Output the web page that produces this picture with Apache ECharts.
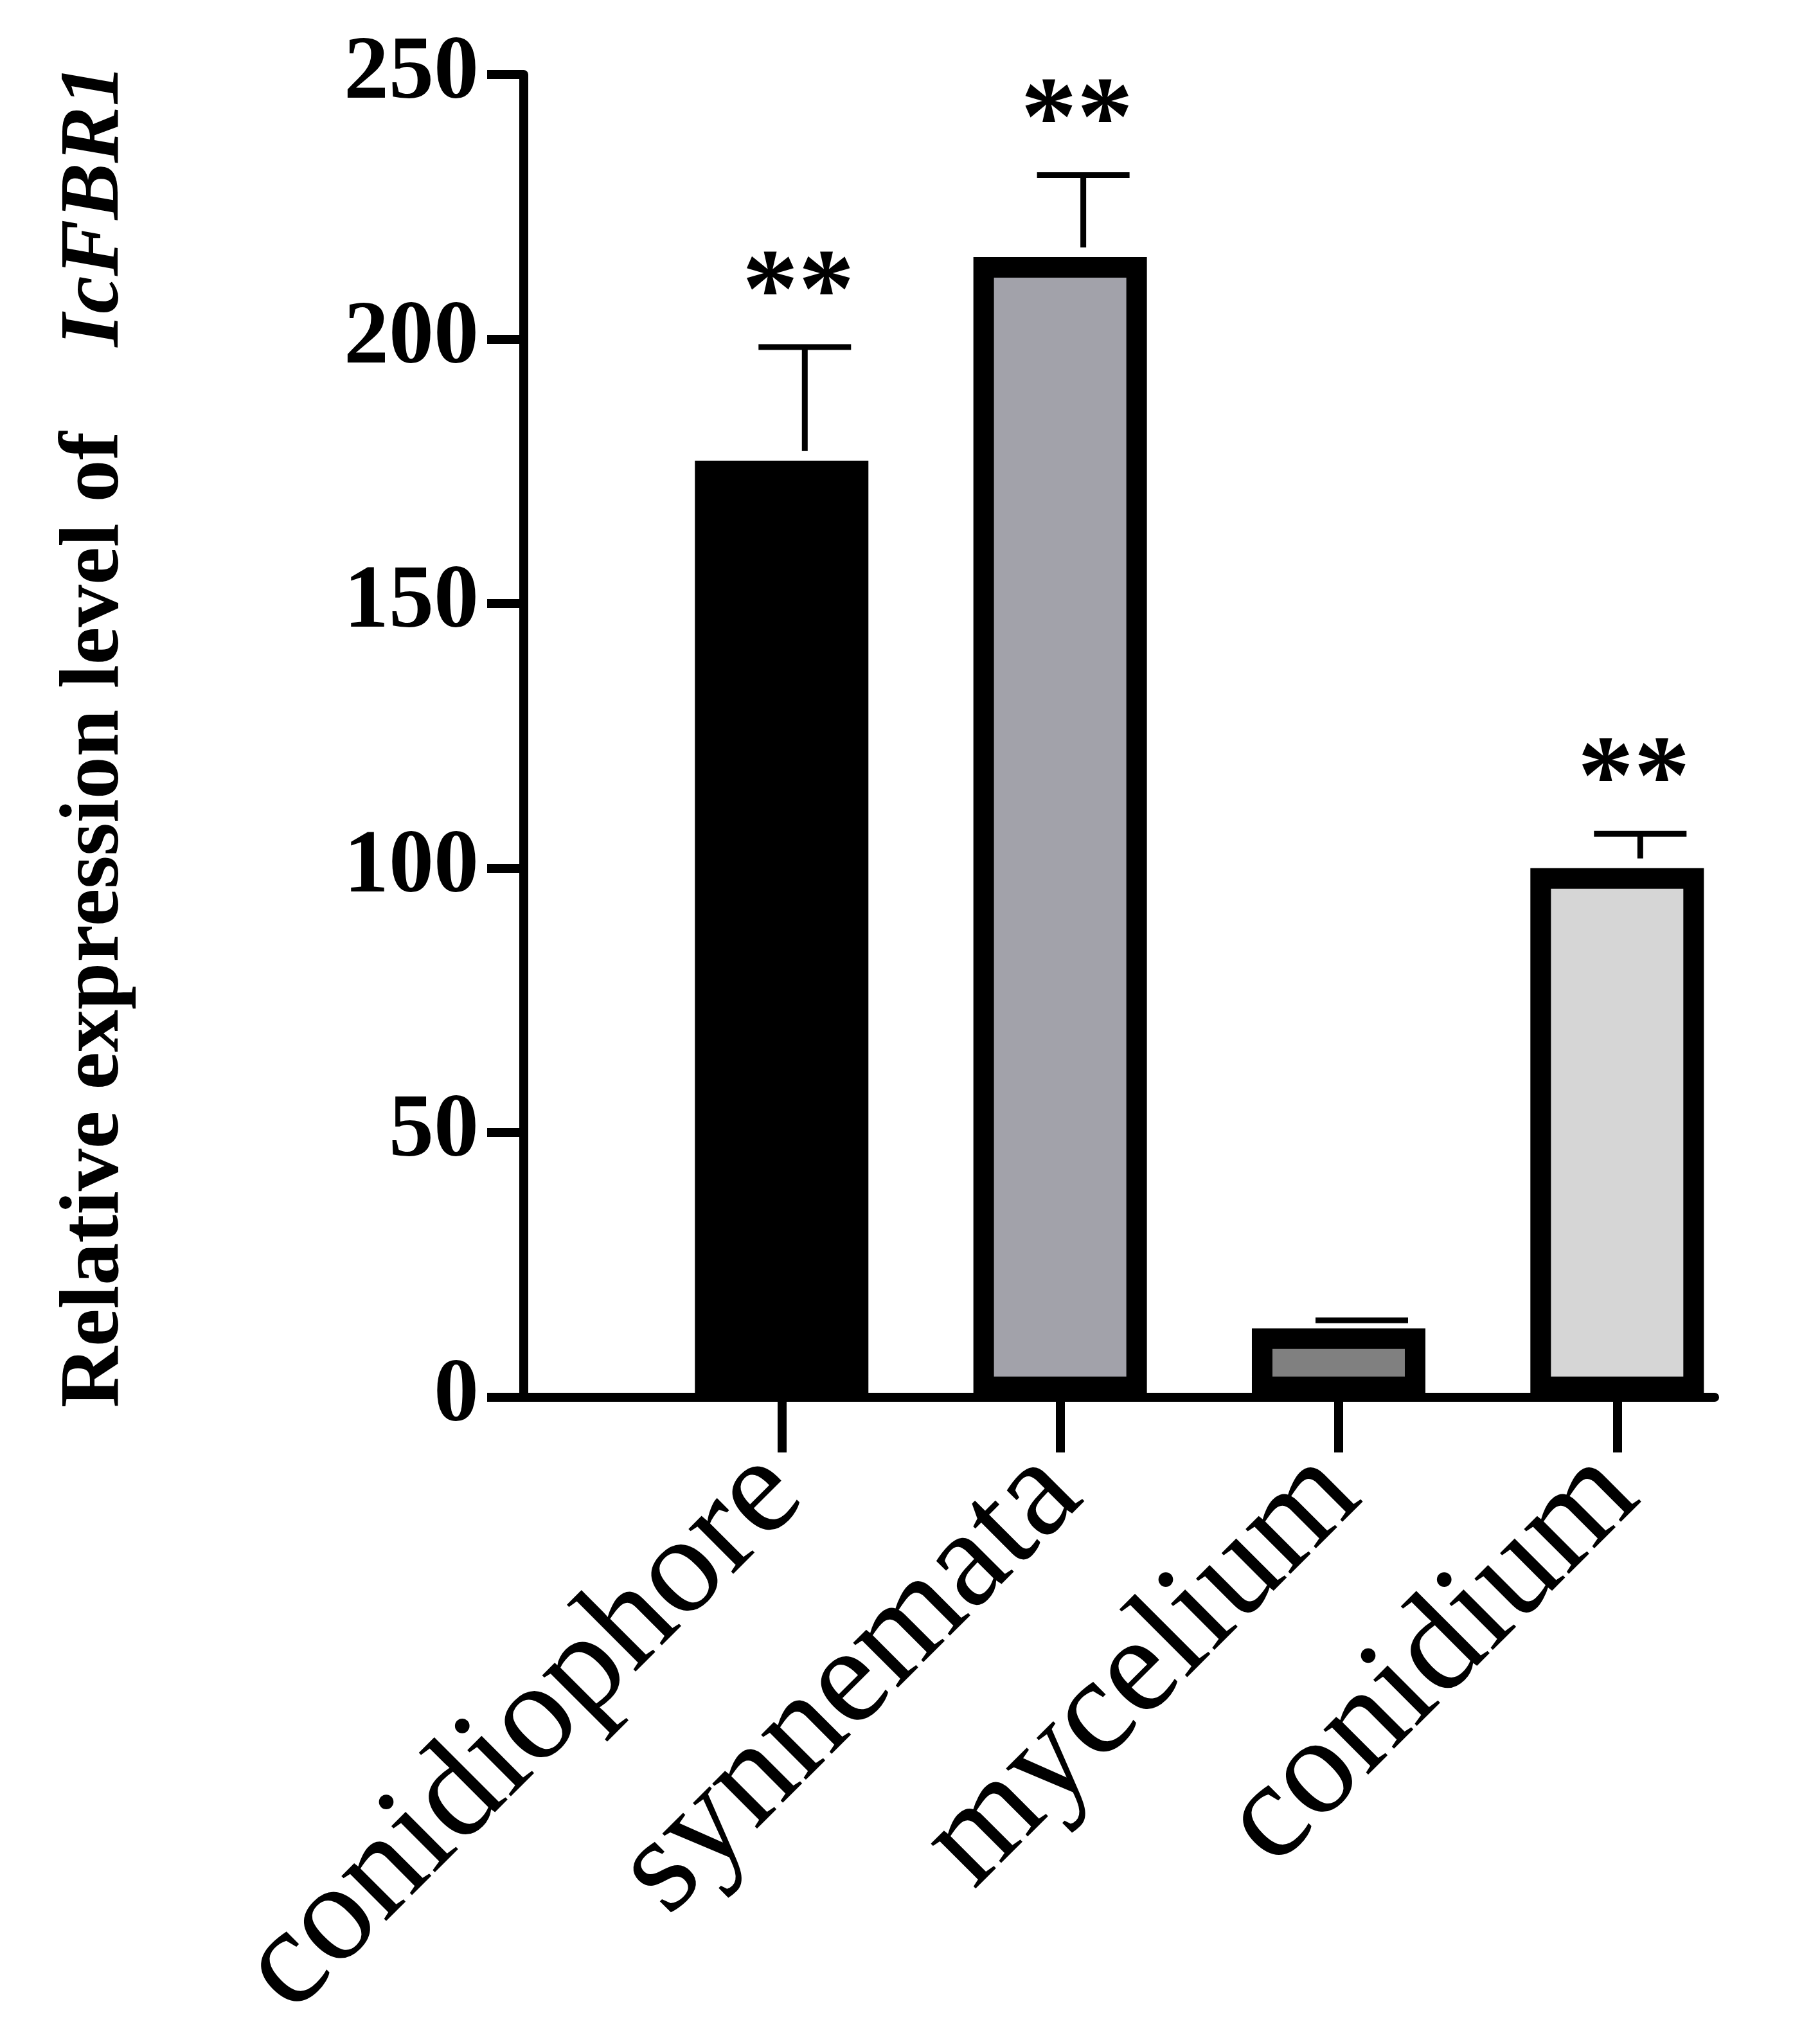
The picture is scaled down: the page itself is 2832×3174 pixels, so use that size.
<!DOCTYPE html>
<html><head><meta charset="utf-8">
<script src="https://cdn.jsdelivr.net/npm/echarts@6/dist/echarts.min.js"></script>
<style>html,body{margin:0;background:#fff}#c{width:2832px;height:3174px}</style>
</head><body><div id="c"></div>
<script>
var categories = ['conidiophore', 'synnemata', 'mycelium', 'conidium'];
var means = [177, 215.5, 13, 100];
var errors = [21.5, 15.5, 1.5, 6.5];
var marks = ['**', '**', '', '**'];
var fills = ['#000000', '#a2a2aa', '#808080', '#d6d6d6'];
var yTicks = [0, 50, 100, 150, 200, 250];

var chart = echarts.init(document.getElementById('c'));
var serif = '"Liberation Serif", "DejaVu Serif", serif';
var barData = means.map(function (v, i) {
  return { value: [i + 1, v], itemStyle: { color: fills[i], borderColor: '#000', borderWidth: 32 } };
});
var errData = means.map(function (v, i) { return [i + 1, v, v + errors[i]]; });

chart.setOption({
  animation: false,
  grid: { left: 815, right: 164, top: 116, bottom: 948, containLabel: false },
  xAxis: {
    type: 'value', min: 0.074, max: 4.35,
    splitLine: { show: false },
    axisLine: { show: true, onZero: false, lineStyle: { color: '#000', width: 14 } },
    axisTick: { show: true, customValues: [1, 2, 3, 4], length: 86, lineStyle: { color: '#000', width: 14 } },
    axisLabel: {
      customValues: [1, 2, 3, 4], rotate: 45, margin: 120,
      fontFamily: serif, fontSize: 215, color: '#000',
      formatter: function (v) { return categories[Math.round(v) - 1]; }
    }
  },
  yAxis: {
    type: 'value', min: 0, max: 250, interval: 50,
    splitLine: { show: false },
    axisLine: { show: true, lineStyle: { color: '#000', width: 14 } },
    axisTick: { show: true, length: 57, lineStyle: { color: '#000', width: 14 } },
    axisLabel: { fontFamily: serif, fontWeight: 'bold', fontSize: 140, color: '#000', margin: 70,
      formatter: function (v) { return yTicks.indexOf(v) >= 0 ? v : ''; } },
    name: '{a|Relative expression level of    }{b|IcFBR1}',
    nameLocation: 'middle', nameGap: 600, nameRotate: 90,
    nameTextStyle: { rich: {
      a: { fontFamily: serif, fontSize: 132, fontWeight: 'bold', color: '#000' },
      b: { fontFamily: serif, fontSize: 132, fontWeight: 'bold', fontStyle: 'italic', color: '#000' }
    } }
  },
  series: [
    { type: 'bar', data: barData, barWidth: 270, z: 2 },
    {
      type: 'custom', z: 3, data: errData,
      renderItem: function (params, api) {
        var i = params.dataIndex;
        var base = api.coord([api.value(0), api.value(1)]);
        var top = api.coord([api.value(0), api.value(2)]);
        var x = base[0] + 36, cap = 72;
        var children = [
          { type: 'line', shape: { x1: x, y1: base[1] - 15, x2: x, y2: top[1] }, style: { stroke: '#000', lineWidth: 9 } },
          { type: 'line', shape: { x1: x - cap, y1: top[1], x2: x + cap, y2: top[1] }, style: { stroke: '#000', lineWidth: 9 } }
        ];
        if (marks[i]) {
          children.push({ type: 'text', x: x - 10, y: top[1] + 10,
            style: { text: marks[i], fontFamily: serif, fontSize: 175, fontWeight: 'bold', fill: '#000', align: 'center', verticalAlign: 'bottom' } });
        }
        return { type: 'group', children: children };
      }
    }
  ]
});
</script></body></html>
